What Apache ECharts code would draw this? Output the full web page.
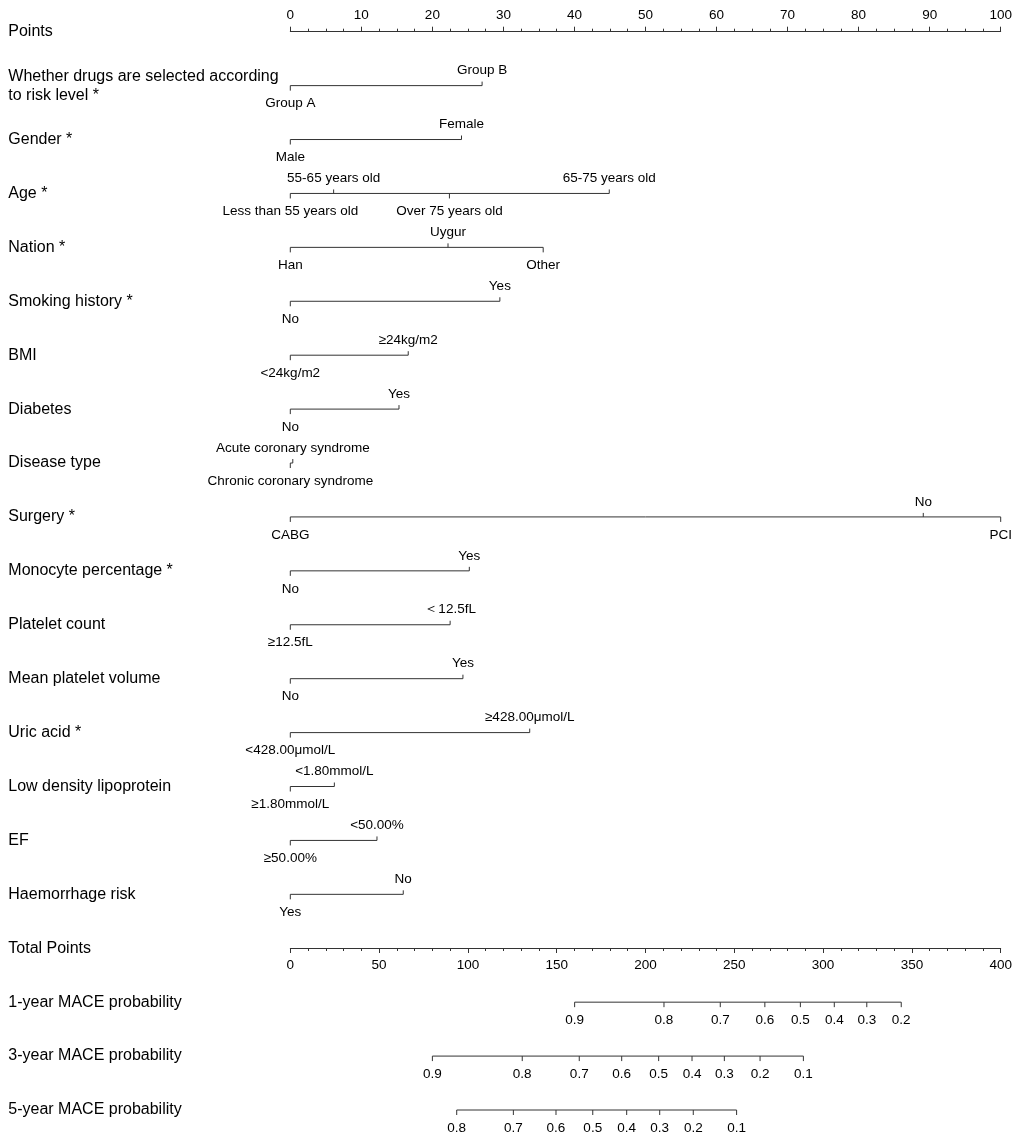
<!DOCTYPE html>
<html>
<head>
<meta charset="utf-8">
<script src="https://cdn.jsdelivr.net/npm/echarts@6/dist/echarts.min.js"></script>
<style>
  html, body { margin: 0; padding: 0; background: #fff; }
  #nomogram { width: 1022px; height: 1144px; }
</style>
</head>
<body>
<div id="nomogram"></div>
<script>
// row names, top to bottom
var rowNames = [
  'Points',
  'Whether drugs are selected according\nto risk level *',
  'Gender *',
  'Age *',
  'Nation *',
  'Smoking history *',
  'BMI',
  'Diabetes',
  'Disease type',
  'Surgery *',
  'Monocyte percentage *',
  'Platelet count',
  'Mean platelet volume',
  'Uric acid *',
  'Low density lipoprotein',
  'EF',
  'Haemorrhage risk',
  'Total Points',
  '1-year MACE probability',
  '3-year MACE probability',
  '5-year MACE probability'
];

// predictor rows (index into rowNames), their levels and points (sorted by points)
var varRows = [1, 2, 3, 4, 5, 6, 7, 8, 9, 10, 11, 12, 13, 14, 15, 16];
var varLevels = [
  ['Group A', 'Group B'],
  ['Male', 'Female'],
  ['Less than 55 years old', '55-65 years old', 'Over 75 years old', '65-75 years old'],
  ['Han', 'Uygur', 'Other'],
  ['No', 'Yes'],
  ['<24kg/m2', '≥24kg/m2'],
  ['No', 'Yes'],
  ['Chronic coronary syndrome', 'Acute coronary syndrome'],
  ['CABG', 'No', 'PCI'],
  ['No', 'Yes'],
  ['≥12.5fL', '＜12.5fL'],
  ['No', 'Yes'],
  ['<428.00μmol/L', '≥428.00μmol/L'],
  ['≥1.80mmol/L', '<1.80mmol/L'],
  ['≥50.00%', '<50.00%'],
  ['Yes', 'No']
];
var varPoints = [
  [0, 27.0],
  [0, 24.1],
  [0, 6.1, 22.4, 44.9],
  [0, 22.2, 35.6],
  [0, 29.5],
  [0, 16.6],
  [0, 15.3],
  [0, 0.35],
  [0, 89.1, 100],
  [0, 25.2],
  [0, 22.5],
  [0, 24.3],
  [0, 33.7],
  [0, 6.2],
  [0, 12.2],
  [0, 15.9]
];

// probability scales: tick labels and their total points
var probRows = [18, 19, 20];
var probLabels = [
  ['0.9', '0.8', '0.7', '0.6', '0.5', '0.4', '0.3', '0.2'],
  ['0.9', '0.8', '0.7', '0.6', '0.5', '0.4', '0.3', '0.2', '0.1'],
  ['0.8', '0.7', '0.6', '0.5', '0.4', '0.3', '0.2', '0.1']
];
var probPoints = [
  [160.1, 210.4, 242.1, 267.2, 287.2, 306.3, 324.6, 344.0],
  [80.0, 130.6, 162.7, 186.6, 207.4, 226.2, 244.4, 264.5, 288.9],
  [93.7, 125.6, 149.6, 170.3, 189.4, 208.0, 226.9, 251.3]
];

var lineColor = '#333';
var textColor = '#000';
var fontFam = '"Liberation Sans", Arial, Helvetica, sans-serif';

// one scale: base line, a tick per level, labels alternating below/above
function scaleItem(row, labs, pts, api, allBelow) {
  var children = [];
  var lo = api.coord([Math.min.apply(null, pts), row]);
  var hi = api.coord([Math.max.apply(null, pts), row]);
  children.push({
    type: 'line',
    shape: { x1: lo[0], y1: lo[1], x2: hi[0], y2: hi[1] },
    style: { stroke: lineColor, lineWidth: 1 }
  });
  for (var k = 0; k < pts.length; k++) {
    var above = !allBelow && (k % 2 == 1);
    var p = api.coord([pts[k], row]);
    children.push({
      type: 'line',
      shape: { x1: p[0], y1: p[1], x2: p[0], y2: p[1] + (above ? -4 : 5) },
      style: { stroke: lineColor, lineWidth: 1 }
    });
    children.push({
      type: 'text',
      style: {
        x: p[0], y: p[1] + (above ? -15 : 18),
        text: labs[k], fill: textColor,
        font: '13.5px ' + fontFam,
        textAlign: 'center', textVerticalAlign: 'middle'
      }
    });
  }
  return { type: 'group', children: children };
}

var myChart = echarts.init(document.getElementById('nomogram'));

var option = {
  backgroundColor: '#fff',
  animation: false,
  textStyle: { fontFamily: fontFam },
  grid: { left: 290.3, right: 21.3, top: 31.7, bottom: 34 },
  xAxis: [
    {
      type: 'value', position: 'top', min: 0, max: 100, interval: 10,
      axisLine: { show: true, lineStyle: { color: lineColor, width: 1 } },
      axisTick: { show: true, length: 5, lineStyle: { color: lineColor } },
      minorTick: { show: true, splitNumber: 4, length: 3, lineStyle: { color: lineColor } },
      axisLabel: { color: textColor, fontSize: 13.5, margin: 9 },
      splitLine: { show: false }
    },
    {
      type: 'value', position: 'bottom', offset: -162, min: 0, max: 400, interval: 50,
      axisLine: { show: true, onZero: false, lineStyle: { color: lineColor, width: 1 } },
      axisTick: { show: true, length: 5, lineStyle: { color: lineColor } },
      minorTick: { show: true, splitNumber: 5, length: 3, lineStyle: { color: lineColor } },
      axisLabel: { color: textColor, fontSize: 13.5, margin: 10 },
      splitLine: { show: false }
    }
  ],
  yAxis: {
    type: 'category', inverse: true, boundaryGap: false,
    data: rowNames,
    axisLine: { show: false },
    axisTick: { show: false },
    splitLine: { show: false },
    axisLabel: {
      interval: 0, align: 'left', margin: 282,
      color: textColor, fontSize: 16, lineHeight: 19
    }
  },
  series: [
    {
      type: 'custom', xAxisIndex: 0, yAxisIndex: 0, clip: false,
      data: varRows.map(function (r) { return [0, r]; }),
      renderItem: function (params, api) {
        var i = params.dataIndex;
        return scaleItem(varRows[i], varLevels[i], varPoints[i], api, false);
      }
    },
    {
      type: 'custom', xAxisIndex: 1, yAxisIndex: 0, clip: false,
      data: probRows.map(function (r) { return [0, r]; }),
      renderItem: function (params, api) {
        var i = params.dataIndex;
        return scaleItem(probRows[i], probLabels[i], probPoints[i], api, true);
      }
    }
  ]
};

myChart.setOption(option);
</script>
</body>
</html>
